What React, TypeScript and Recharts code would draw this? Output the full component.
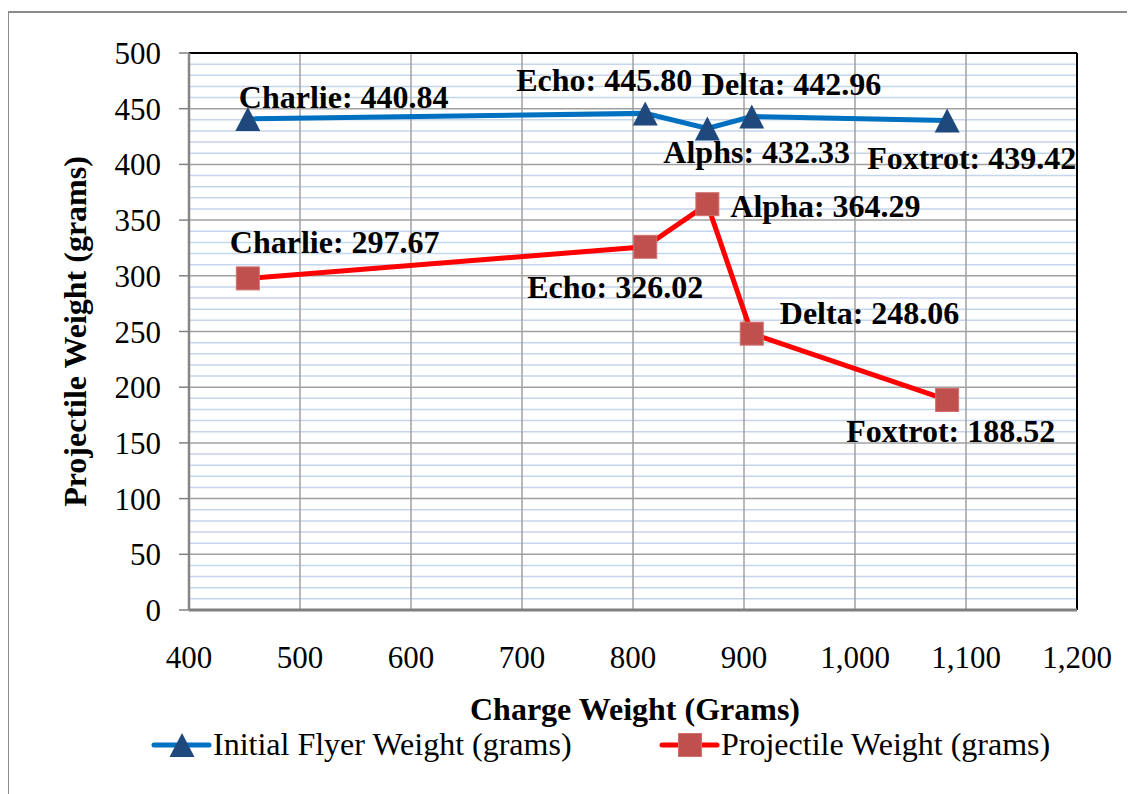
import React from 'react';
import {
  LineChart,
  Line,
  XAxis,
  YAxis,
  CartesianGrid,
  ReferenceLine,
  LabelList,
  Legend,
} from 'recharts';

// ---- data ----
const chargeWeights = [453, 811, 867, 907, 1083];
const flyerWeights = [440.84, 445.8, 432.33, 442.96, 439.42];
const projectileWeights = [297.67, 326.02, 364.29, 248.06, 188.52];
const flyerNames = ['Charlie', 'Echo', 'Alphs', 'Delta', 'Foxtrot'];
const projectileNames = ['Charlie', 'Echo', 'Alpha', 'Delta', 'Foxtrot'];

const xTicks = [400, 500, 600, 700, 800, 900, 1000, 1100, 1200];
const yTicks = [0, 50, 100, 150, 200, 250, 300, 350, 400, 450, 500];
const yMinorTicks = [
  10, 20, 30, 40, 60, 70, 80, 90, 110, 120, 130, 140, 160, 170, 180, 190,
  210, 220, 230, 240, 260, 270, 280, 290, 310, 320, 330, 340, 360, 370, 380,
  390, 410, 420, 430, 440, 460, 470, 480, 490,
];

const data = chargeWeights.map((c, i) => ({
  charge: c,
  flyer: flyerWeights[i],
  projectile: projectileWeights[i],
}));

// ---- styles ----
const FONT = '"Liberation Serif", "Times New Roman", serif';
const FS = 31;
const FS_TEXT = 32;
const BLUE_LINE = '#0070C0';
const BLUE_MARK = '#1F497D';
const RED_LINE = '#FF0000';
const RED_MARK = '#C0504D';

// label offsets (start anchor, baseline) relative to point
const flyerLabelOffsets = [
  [-9, -11],
  [-129, -22],
  [-44, 35],
  [-50, -21.5],
  [-80, 49],
];
const projectileLabelOffsets = [
  [-18, -25],
  [-118, 51.5],
  [23, 13],
  [28, -10],
  [-101, 42],
];

const Triangle = (props: any) => {
  const { cx, cy } = props;
  if (cx == null || cy == null) return null;
  const w = 25;
  const h = 24;
  return (
    <path
      d={`M${cx},${cy - h / 2} L${cx + w / 2},${cy + h / 2} L${cx - w / 2},${cy + h / 2} Z`}
      fill={BLUE_MARK}
    />
  );
};

const Square = (props: any) => {
  const { cx, cy } = props;
  if (cx == null || cy == null) return null;
  const s = 23;
  return (
    <rect
      x={cx - s / 2}
      y={cy - s / 2}
      width={s}
      height={s}
      fill={RED_MARK}
      stroke="#D0716E"
      strokeWidth={1}
    />
  );
};

const makeLabel = (names: string[], offsets: number[][]) => (props: any) => {
  const { x, y, index, value } = props;
  if (x == null || y == null) return null;
  const [dx, dy] = offsets[index];
  return (
    <text
      x={x + dx}
      y={y + dy}
      fontFamily={FONT}
      fontSize={FS_TEXT}
      fontWeight="bold"
      fill="#000"
      textAnchor="start"
    >
      {`${names[index]}: ${Number(value).toFixed(2)}`}
    </text>
  );
};

const YTitle = (props: any) => {
  const vb = props.viewBox || {};
  const x = vb.x - 23;
  const y = vb.y + vb.height / 2;
  return (
    <text
      x={x}
      y={y}
      transform={`rotate(-90, ${x}, ${y})`}
      textAnchor="middle"
      fontFamily={FONT}
      fontSize={FS_TEXT}
      fontWeight="bold"
      fill="#000"
    >
      Projectile Weight (grams)
    </text>
  );
};

const XTitle = (props: any) => {
  const vb = props.viewBox || {};
  const x = vb.x + vb.width / 2 + 2;
  const y = vb.y + 110;
  return (
    <text
      x={x}
      y={y}
      textAnchor="middle"
      fontFamily={FONT}
      fontSize={FS_TEXT}
      fontWeight="bold"
      fill="#000"
    >
      Charge Weight (Grams)
    </text>
  );
};

const LegendContent = (props: any) => {
  const payload = props.payload || [];
  const itemX = [4, 512];
  return (
    <svg width={940} height={50} style={{ display: 'block' }}>
      {payload.map((entry: any, i: number) => {
        const ox = itemX[i] ?? 0;
        const isFlyer = entry.dataKey === 'flyer';
        const cy = 20;
        return (
          <g key={i}>
            <line
              x1={ox}
              y1={cy}
              x2={ox + 55}
              y2={cy}
              stroke={isFlyer ? BLUE_LINE : RED_LINE}
              strokeWidth={5}
              strokeLinecap="round"
            />
            {isFlyer ? (
              <Triangle cx={ox + 28} cy={cy} />
            ) : (
              <Square cx={ox + 28} cy={cy} />
            )}
            <text
              x={ox + 59}
              y={cy + 10}
              fontFamily={FONT}
              fontSize={FS_TEXT}
              fill="#000"
            >
              {entry.value}
            </text>
          </g>
        );
      })}
    </svg>
  );
};

const fmtX = (v: number) => v.toLocaleString('en-US');

export default function App() {
  return (
    <div
      style={{
        position: 'relative',
        width: 1127,
        height: 786,
        overflow: 'hidden',
      }}
    >
      <div style={{ position: 'absolute', left: -8, top: -8, width: 1135, height: 794 }}>
        <div
          style={{
            position: 'absolute',
            left: 7,
            top: 11,
            width: 1300,
            height: 1000,
            border: '2px solid #8a8a8a',
            boxSizing: 'border-box',
          }}
        />
        <div style={{ position: 'absolute', left: 0, top: 0 }}>
          <LineChart
            width={1135}
            height={794}
            data={data}
            margin={{ top: 53, right: 58, bottom: 124, left: 109 }}
          >
            <CartesianGrid
              horizontalValues={yMinorTicks}
              vertical={false}
              stroke="#C4D5EC"
              strokeWidth={1.5}
            />
            <CartesianGrid
              horizontalValues={yTicks}
              verticalValues={xTicks}
              stroke="#A0A0A0"
              strokeWidth={1.5}
            />
            <XAxis
              type="number"
              dataKey="charge"
              domain={[400, 1200]}
              ticks={xTicks}
              interval={0}
              tickFormatter={fmtX}
              allowDataOverflow
              height={60}
              tickLine={false}
              tickSize={0}
              tickMargin={36}
              axisLine={{ stroke: '#808080', strokeWidth: 3 }}
              tick={{ fontFamily: FONT, fontSize: FS, fill: '#000' }}
              label={<XTitle />}
            />
            <YAxis
              type="number"
              domain={[0, 500]}
              ticks={yTicks}
              interval={0}
              width={80}
              tickSize={10}
              tickMargin={18}
              tickLine={{ stroke: '#808080', strokeWidth: 1.5 }}
              axisLine={{ stroke: '#868686', strokeWidth: 2.5 }}
              tick={{ fontFamily: FONT, fontSize: FS, fill: '#000' }}
              label={<YTitle />}
            />
            <ReferenceLine y={500} stroke="#000" strokeWidth={2} />
            <ReferenceLine x={1200} stroke="#000" strokeWidth={2} />
            <Line
              dataKey="flyer"
              name="Initial Flyer Weight (grams)"
              stroke={BLUE_LINE}
              strokeWidth={5}
              dot={<Triangle />}
              activeDot={false}
              isAnimationActive={false}
            >
              <LabelList dataKey="flyer" content={makeLabel(flyerNames, flyerLabelOffsets)} />
            </Line>
            <Line
              dataKey="projectile"
              name="Projectile Weight (grams)"
              stroke={RED_LINE}
              strokeWidth={5}
              dot={<Square />}
              activeDot={false}
              isAnimationActive={false}
            >
              <LabelList
                dataKey="projectile"
                content={makeLabel(projectileNames, projectileLabelOffsets)}
              />
            </Line>
            <Legend
              layout="horizontal"
              verticalAlign="middle"
              align="center"
              content={<LegendContent />}
              wrapperStyle={{ position: 'absolute', left: 150, top: 725, width: 940, height: 50 }}
            />
          </LineChart>
        </div>
      </div>
    </div>
  );
}
